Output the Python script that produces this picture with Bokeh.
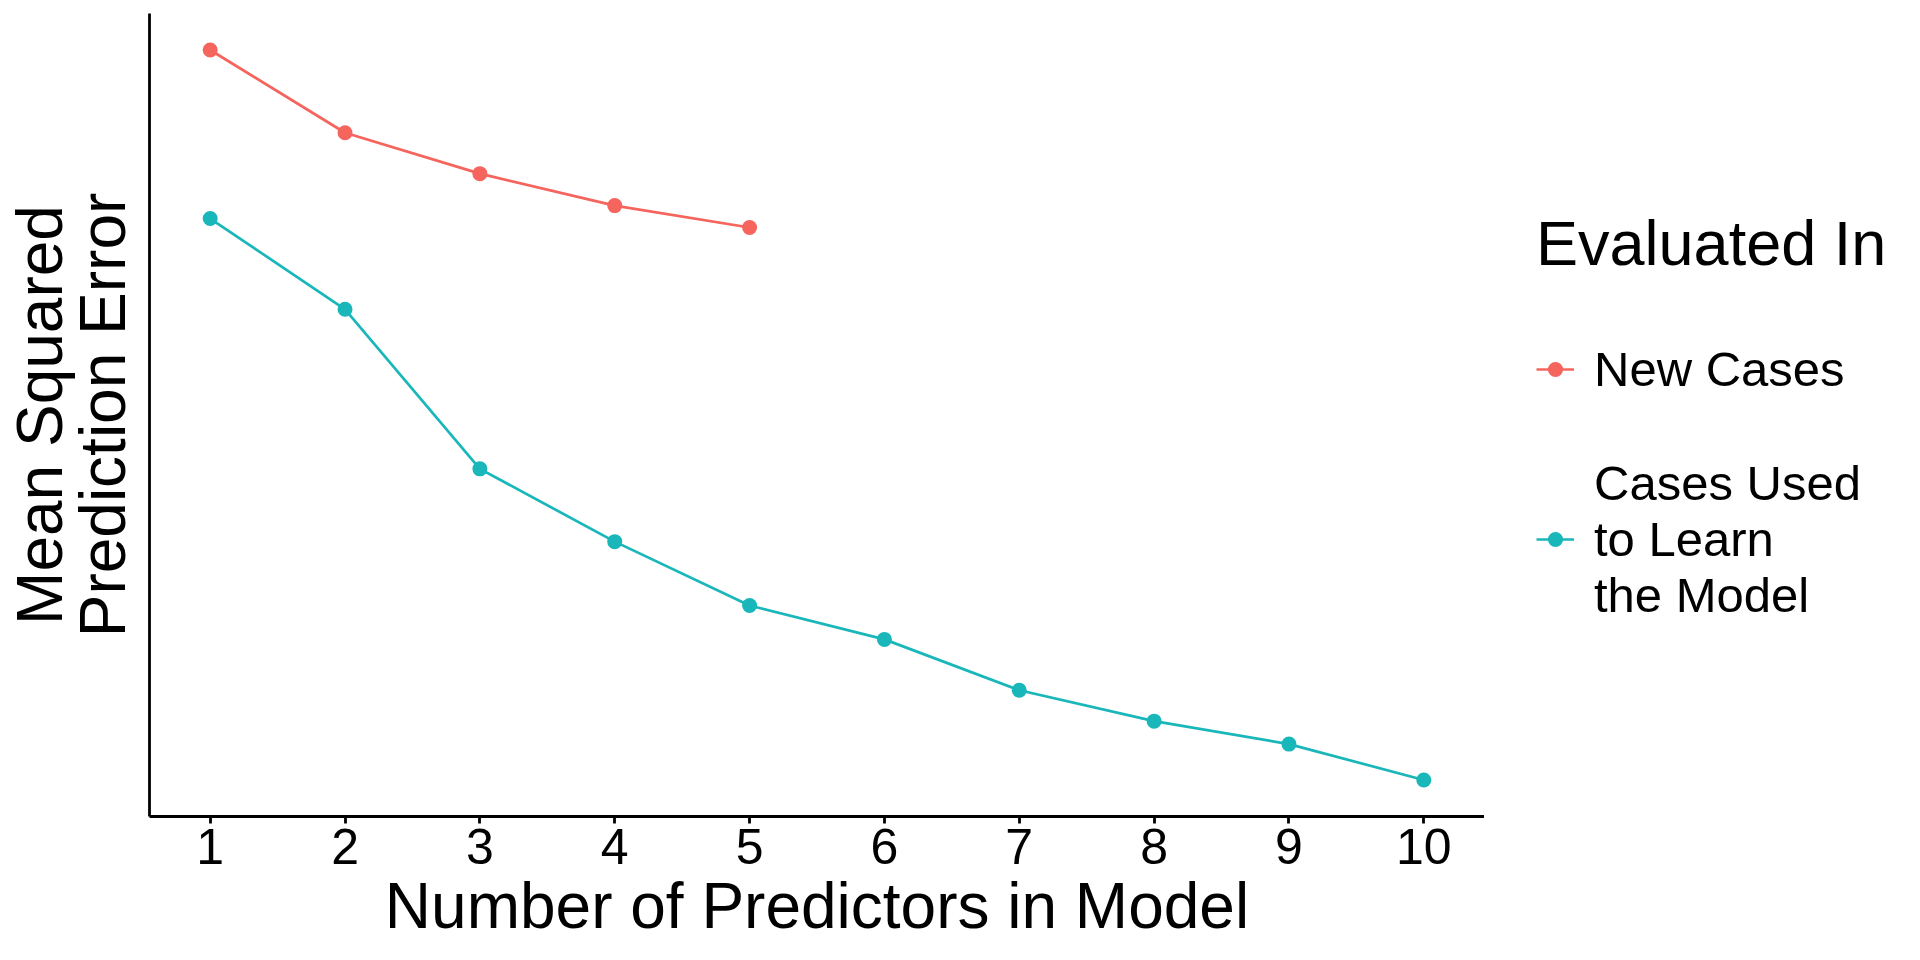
from bokeh.plotting import figure
from bokeh.models import ColumnDataSource, Legend, LegendItem, Range1d, FixedTicker
from bokeh.layouts import row
from bokeh.embed import file_html
from bokeh.resources import INLINE

# Data (arbitrary MSE units)
predictors_new = [1, 2, 3, 4, 5]
mse_new = [7.67, 6.84, 6.43, 6.11, 5.89]
predictors_train = [1, 2, 3, 4, 5, 6, 7, 8, 9, 10]
mse_train = [5.98, 5.07, 3.47, 2.74, 2.10, 1.76, 1.25, 0.94, 0.71, 0.35]
x_ticks = [1, 2, 3, 4, 5, 6, 7, 8, 9, 10]
series_labels = ["New Cases", "Cases Used\nto Learn\nthe Model"]
series_colors = ["#F5645D", "#19B6BA"]

FONT = "Liberation Sans"

all_y = mse_new + mse_train
ymin, ymax = min(all_y), max(all_y)
ypad = 0.05 * (ymax - ymin)
xmin, xmax = min(x_ticks), max(x_ticks)
xpad = 0.05 * (xmax - xmin)

p = figure(width=1484, height=944, output_backend="svg", toolbar_location=None,
           x_range=Range1d(xmin - xpad, xmax + xpad),
           y_range=Range1d(ymin - ypad, ymax + ypad),
           min_border_left=142, min_border_right=0,
           min_border_top=13, min_border_bottom=126)
p.outline_line_color = None
p.grid.visible = False
p.background_fill_color = "white"

src_new = ColumnDataSource(dict(x=predictors_new, y=mse_new))
src_train = ColumnDataSource(dict(x=predictors_train, y=mse_train))

p.line("x", "y", source=src_new, line_color=series_colors[0], line_width=2.7)
p.scatter("x", "y", source=src_new, size=15, fill_color=series_colors[0], line_color=None)
p.line("x", "y", source=src_train, line_color=series_colors[1], line_width=2.7)
p.scatter("x", "y", source=src_train, size=15, fill_color=series_colors[1], line_color=None)

# x axis
xa = p.xaxis[0]
xa.ticker = FixedTicker(ticks=x_ticks)
xa.minor_tick_line_color = None
xa.major_tick_in = 0
xa.major_tick_out = 7
xa.major_tick_line_width = 2.8
xa.axis_line_width = 2.8
xa.axis_line_color = "black"
xa.major_tick_line_color = "black"
xa.major_label_text_font = FONT
xa.major_label_text_font_size = "50px"
xa.major_label_text_color = "black"
xa.major_label_text_line_height = 1.0
xa.major_label_standoff = 5
xa.axis_label = "Number of Predictors in Model"
xa.axis_label_text_font = FONT
xa.axis_label_text_font_size = "64px"
xa.axis_label_text_font_style = "normal"
xa.axis_label_text_color = "black"
xa.axis_label_text_line_height = 1.0
xa.axis_label_standoff = 3

# y axis
ya = p.yaxis[0]
ya.ticker = FixedTicker(ticks=[])
ya.minor_tick_line_color = None
ya.major_tick_line_color = None
ya.major_label_text_font_size = "0px"
ya.major_label_standoff = 0
ya.axis_line_width = 2.8
ya.axis_line_color = "black"
ya.axis_label = "Mean Squared\nPrediction Error"
ya.axis_label_text_font = FONT
ya.axis_label_text_font_size = "64px"
ya.axis_label_text_font_style = "normal"
ya.axis_label_text_color = "black"
ya.axis_label_text_line_height = 0.87
ya.axis_label_standoff = 11

# Legend panel (separate figure so the multi-line label does not squeeze the plot)
q = figure(width=420, height=944, output_backend="svg", toolbar_location=None,
           x_axis_type=None, y_axis_type=None,
           x_range=Range1d(0, 1), y_range=Range1d(0, 1),
           min_border_left=0, min_border_right=0, min_border_top=0, min_border_bottom=0)
q.outline_line_color = None
q.grid.visible = False
# key renderers carry no visible data (a single NaN point) - they only style the legend keys
key_src = ColumnDataSource(dict(x=[float("nan")], y=[float("nan")]))
k1l = q.line("x", "y", source=key_src, line_color=series_colors[0], line_width=2.7)
k1s = q.scatter("x", "y", source=key_src, size=15, fill_color=series_colors[0], line_color=None)
k2l = q.line("x", "y", source=key_src, line_color=series_colors[1], line_width=2.7)
k2s = q.scatter("x", "y", source=key_src, size=15, fill_color=series_colors[1], line_color=None)

legend = Legend(items=[LegendItem(label=series_labels[0], renderers=[k1l, k1s]),
                       LegendItem(label=series_labels[1], renderers=[k2l, k2s])],
                location=(52, 193), orientation="vertical")
legend.title = "Evaluated In"
legend.title_text_font = FONT
legend.title_text_font_size = "63px"
legend.title_text_font_style = "normal"
legend.title_text_color = "black"
legend.title_standoff = 62
legend.label_text_font = FONT
legend.label_text_font_size = "49px"
legend.label_text_color = "black"
legend.label_text_line_height = 1.04
legend.label_standoff = 20
legend.glyph_width = 38
legend.glyph_height = 40
legend.spacing = 58
legend.padding = 0
legend.margin = 0
legend.border_line_color = None
legend.background_fill_color = None
legend.background_fill_alpha = 0
q.add_layout(legend, "center")

layout = row(p, q)
open("out.html", "w").write(file_html(layout, INLINE))
